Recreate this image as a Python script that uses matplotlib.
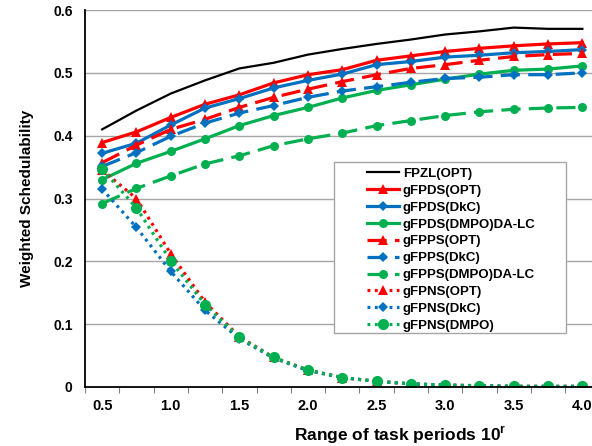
import numpy as np
import matplotlib
matplotlib.use('Agg')
import matplotlib.pyplot as plt
from matplotlib.patches import Rectangle
from matplotlib.ticker import FixedLocator, FuncFormatter

plt.rcParams['font.family'] = ['Liberation Sans', 'DejaVu Sans']
plt.rcParams['font.weight'] = 'bold'
plt.rcParams['mathtext.fontset'] = 'custom'
plt.rcParams['mathtext.bf'] = 'Liberation Sans:bold'
plt.rcParams['mathtext.rm'] = 'Liberation Sans:bold'

r_values = [0.5, 0.75, 1.0, 1.25, 1.5, 1.75, 2.0, 2.25, 2.5, 2.75, 3.0, 3.25, 3.5, 3.75, 4.0]

fpzl_opt = [0.410, 0.440, 0.467, 0.488, 0.507, 0.516, 0.529, 0.538, 0.546, 0.553,
            0.561, 0.566, 0.572, 0.570, 0.570]
gfpds_opt = [0.389, 0.406, 0.429, 0.450, 0.465, 0.484, 0.497, 0.505, 0.520, 0.527,
             0.534, 0.539, 0.543, 0.546, 0.548]
gfpds_dkc = [0.372, 0.388, 0.417, 0.444, 0.459, 0.476, 0.488, 0.498, 0.513, 0.518,
             0.525, 0.528, 0.532, 0.534, 0.537]
gfpds_dmpo = [0.330, 0.356, 0.375, 0.395, 0.416, 0.432, 0.445, 0.460, 0.472, 0.481,
              0.490, 0.498, 0.504, 0.506, 0.511]
gfpps_opt = [0.357, 0.385, 0.410, 0.426, 0.445, 0.461, 0.474, 0.486, 0.497, 0.507,
             0.513, 0.520, 0.526, 0.529, 0.531]
gfpps_dkc = [0.351, 0.373, 0.399, 0.420, 0.436, 0.448, 0.461, 0.471, 0.478, 0.485,
             0.491, 0.493, 0.497, 0.497, 0.500]
gfpps_dmpo = [0.292, 0.316, 0.336, 0.355, 0.368, 0.384, 0.395, 0.404, 0.416, 0.424,
              0.432, 0.438, 0.442, 0.444, 0.445]
gfpns_opt = [0.345, 0.300, 0.212, 0.135, 0.080, 0.047, 0.027, 0.015, 0.009, 0.005,
             0.003, 0.002, 0.001, 0.001, 0.001]
gfpns_dkc = [0.315, 0.254, 0.184, 0.122, 0.077, 0.046, 0.026, 0.015, 0.009, 0.005,
             0.003, 0.002, 0.001, 0.001, 0.001]
gfpns_dmpo = [0.347, 0.285, 0.201, 0.131, 0.079, 0.047, 0.027, 0.015, 0.009, 0.005,
              0.003, 0.002, 0.001, 0.001, 0.001]

x_ticklabels = ['0.5', '1.0', '1.5', '2.0', '2.5', '3.0', '3.5', '4.0']

RED = '#FF0000'
BLUE = '#0070C0'
GREEN = '#00B050'
DASH = (0, (6, 2.6))
DOT = (0, (0.9, 1.4))

fig = plt.figure(figsize=(5.92, 4.46), dpi=100)
# plot area runs a little past the right edge of the image, as in the original
ax_w = 514.5
ax = fig.add_axes([85 / 592, 1 - 387 / 446, ax_w / 592, 377 / 446])

series = [
    ('FPZL(OPT)', fpzl_opt, 'black', '-', None, 0, 1.6),
    ('gFPDS(OPT)', gfpds_opt, RED, '-', '^', 7, 2.3),
    ('gFPDS(DkC)', gfpds_dkc, BLUE, '-', 'D', 5.5, 2.3),
    ('gFPDS(DMPO)DA-LC', gfpds_dmpo, GREEN, '-', 'o', 6.5, 2.3),
    ('gFPPS(OPT)', gfpps_opt, RED, DASH, '^', 7, 2.3),
    ('gFPPS(DkC)', gfpps_dkc, BLUE, DASH, 'D', 5.5, 2.3),
    ('gFPPS(DMPO)DA-LC', gfpps_dmpo, GREEN, DASH, 'o', 6.5, 2.3),
    ('gFPNS(OPT)', gfpns_opt, RED, DOT, '^', 7, 2.3),
    ('gFPNS(DkC)', gfpns_dkc, BLUE, DOT, 'D', 5.5, 2.3),
    ('gFPNS(DMPO)', gfpns_dmpo, GREEN, DOT, 'o', 8, 2.3),
]

for label, vals, color, ls, marker, ms, lw in series:
    ax.plot(r_values, vals, color=color, linestyle=ls, marker=marker, markersize=ms,
            linewidth=lw, label=label, markeredgewidth=0)

ax.set_xlim(0.375, 4.125)
ax.set_ylim(0, 0.6)

ax.set_xticks(np.arange(0.5, 4.01, 0.5))
ax.set_xticklabels(x_ticklabels)
ax.tick_params(axis='x', which='major', length=0, pad=9, labelsize=10.5)
ax.xaxis.set_minor_locator(FixedLocator(np.arange(0.375, 4.2, 0.25)))
ax.tick_params(axis='x', which='minor', length=4, width=0.8, color='#808080')

ax.set_yticks(np.arange(0, 0.61, 0.1))
ax.yaxis.set_major_formatter(FuncFormatter(lambda v, p: '0' if abs(v) < 1e-9 else f'{v:.1f}'))
ax.tick_params(axis='y', length=0, pad=9, labelsize=10)
ax.grid(axis='y', color='#A6A6A6', linewidth=1)
ax.set_axisbelow(True)

for side in ['top', 'right']:
    ax.spines[side].set_visible(False)
ax.spines['left'].set_linewidth(1.3)
ax.spines['bottom'].set_linewidth(1.3)

ax.set_ylabel('Weighted Schedulability', fontsize=11, fontweight='bold', labelpad=14)
ax.set_xlabel(r'Range of task periods 10$^{\mathbf{r}}$', fontsize=12.5, fontweight='bold', labelpad=6)
ax.xaxis.set_label_coords((400 - 85) / ax_w, -0.1)

# legend: tight rows, wide frame drawn separately
leg = ax.legend(loc='upper left', bbox_to_anchor=((367 - 85) / ax_w, 0.5815), borderaxespad=0,
                fontsize=9.5, handlelength=2.45, labelspacing=0.35, handletextpad=0.25,
                borderpad=0, frameon=False)
ax.add_patch(Rectangle(((334 - 85) / ax_w, 0.143), 232 / ax_w, 0.454, transform=ax.transAxes,
                       facecolor='white', edgecolor='#A6A6A6', linewidth=1, zorder=4))
leg.set_zorder(5)

fig.savefig('out.png', dpi=100)
